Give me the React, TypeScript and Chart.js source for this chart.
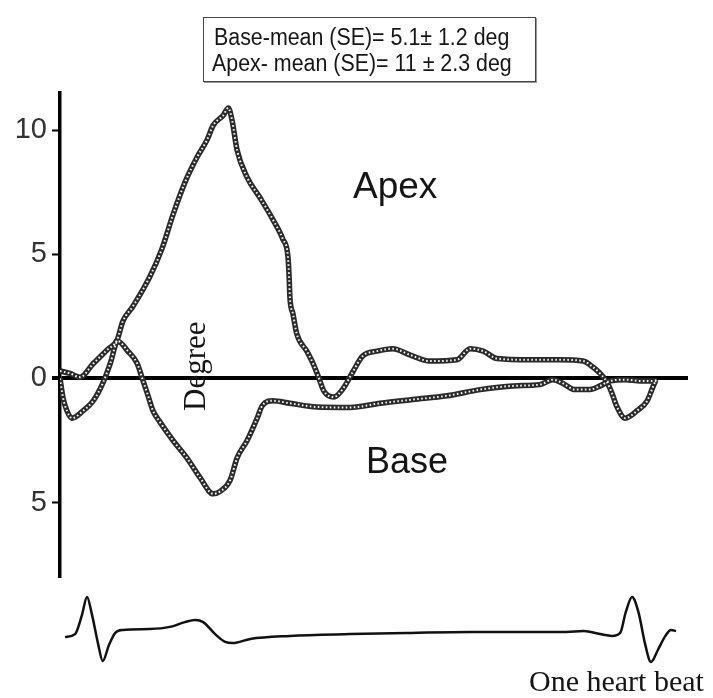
import React, { useEffect, useRef } from 'react';
import { Chart, registerables } from 'chart.js';

Chart.register(...registerables);

// ---- Data (time in ms across one heart beat, rotation in degrees) ----
const apexTime = [0, 16, 32, 53, 75, 91, 100, 116, 143, 162, 180, 199, 218, 234, 244, 260, 268, 274, 282, 298, 318, 339, 355, 363, 365, 366, 371, 377, 393, 403, 411, 420, 436, 451, 467, 482, 505, 530, 557, 589, 632, 653, 674, 696, 748, 796, 833, 849, 860, 871, 879, 887, 900, 919, 935, 944, 949];
const apexDeg = [0.3, 0.2, 0.05, 0.6, 1.15, 1.55, 2.3, 2.9, 4.1, 5.2, 6.6, 7.9, 8.9, 9.6, 10.2, 10.6, 10.9, 10.4, 9.2, 8.1, 7.3, 6.4, 5.6, 4.9, 4.0, 3.3, 2.6, 1.8, 1.1, 0.6, 0.1, -0.5, -0.75, -0.4, 0.3, 0.9, 1.1, 1.2, 0.95, 0.7, 0.75, 1.2, 1.1, 0.8, 0.75, 0.75, 0.7, 0.45, 0.2, -0.15, -0.6, -1.15, -1.6, -1.3, -0.9, -0.35, -0.05];

const baseTime = [0, 5, 11, 19, 37, 53, 68, 80, 92, 108, 123, 131, 139, 148, 159, 180, 202, 223, 244, 255, 271, 282, 298, 314, 322, 339, 366, 409, 462, 510, 562, 616, 669, 721, 764, 785, 801, 820, 844, 860, 876, 900, 924, 951];
const baseDeg = [0.0, -0.8, -1.3, -1.6, -1.3, -0.9, -0.2, 0.6, 1.5, 1.1, 0.6, 0.0, -0.6, -1.3, -1.75, -2.5, -3.2, -4.0, -4.65, -4.55, -4.1, -3.2, -2.5, -1.6, -1.1, -0.9, -1.0, -1.15, -1.17, -1.0, -0.85, -0.7, -0.45, -0.3, -0.25, -0.05, -0.2, -0.45, -0.45, -0.3, -0.1, -0.05, -0.1, -0.1];

const ecgTime = [8, 24, 35, 43, 51, 61, 68, 78, 88, 100, 143, 175, 199, 215, 228, 247, 263, 275, 303, 366, 462, 559, 653, 806, 834, 860, 879, 892, 901, 911, 921, 932, 941, 952, 964, 973, 981];
const ecgAmp = [-0.17, -0.07, 0.57, 1.17, 0.57, -0.43, -0.97, -0.43, -0.03, 0.07, 0.1, 0.17, 0.33, 0.4, 0.33, -0.07, -0.33, -0.37, -0.23, -0.13, -0.07, -0.03, 0, 0, 0.03, -0.07, -0.13, -0.03, 0.67, 1.17, 0.67, -0.43, -1.0, -0.6, -0.13, 0.07, 0.03];

const yTickValues = [-5, 0, 5, 10];
const yTickLabels = ['5', '0', '5', '10'];

const boxLines = ['Base-mean (SE)= 5.1\u00B1 1.2 deg', 'Apex- mean (SE)= 11 \u00B1 2.3 deg'];
const apexLabel = 'Apex';
const baseLabel = 'Base';
const yTitle = 'Degree';
const ecgLabel = 'One heart beat';

const pts = (xs: number[], ys: number[]) => xs.map((x, i) => ({ x, y: ys[i] }));

function beaded(label: string, xs: number[], ys: number[]) {
  const data = pts(xs, ys);
  return [
    {
      label,
      data,
      order: 2,
      borderColor: '#2a2a2a',
      borderWidth: 5.5,
      pointRadius: 0,
      cubicInterpolationMode: 'monotone' as const,
      fill: false,
    },
    {
      label: label + ' beads',
      data,
      order: 1,
      borderColor: 'rgba(255,255,255,0.95)',
      borderWidth: 2,
      borderDash: [1.6, 2.4],
      pointRadius: 0,
      cubicInterpolationMode: 'monotone' as const,
      fill: false,
    },
  ];
}

function Txt(props: { x: number; baseline: number; size: number; serif?: boolean; text: string; rotate?: boolean; scaleX?: number }) {
  const { x, baseline, size, serif, text, rotate, scaleX } = props;
  const asc = serif ? 0.8375 : 0.8465;
  const style: React.CSSProperties = {
    position: 'absolute',
    whiteSpace: 'nowrap',
    fontFamily: serif ? '"Liberation Serif", "Times New Roman", serif' : '"Liberation Sans", Arial, sans-serif',
    fontSize: size + 'px',
    lineHeight: size + 'px',
    color: '#151515',
    margin: 0,
    padding: 0,
  };
  if (rotate) {
    style.left = x - asc * size;
    style.top = baseline;
    style.transformOrigin = '0 0';
    style.transform = 'rotate(-90deg)';
  } else {
    style.left = x;
    style.top = baseline - asc * size;
    if (scaleX) {
      style.transformOrigin = '0 0';
      style.transform = `scaleX(${scaleX})`;
    }
  }
  return <div style={style}>{text}</div>;
}

export default function App() {
  const mainRef = useRef<HTMLCanvasElement>(null);
  const ecgRef = useRef<HTMLCanvasElement>(null);

  useEffect(() => {
    const main = new Chart(mainRef.current!, {
      type: 'line',
      data: {
        datasets: [...beaded('Apex', apexTime, apexDeg), ...beaded('Base', baseTime, baseDeg)] as any,
      },
      options: {
        animation: false,
        responsive: false,
        devicePixelRatio: 1,
        layout: { padding: { top: 93, bottom: 23, left: 0, right: 25 } },
        plugins: { legend: { display: false }, tooltip: { enabled: false } },
        scales: {
          x: { type: 'linear', min: 0, max: 1000, display: false },
          y: {
            type: 'linear',
            min: -8,
            max: 11.5,
            afterBuildTicks: (s: any) => {
              s.ticks = yTickValues.map((v) => ({ value: v }));
            },
            afterFit: (s: any) => {
              s.width = 60;
            },
            ticks: {
              callback: (v: any) => {
                const i = yTickValues.indexOf(Number(v));
                return i >= 0 ? yTickLabels[i] : '';
              },
              font: { family: '"Liberation Sans", Arial, sans-serif', size: 29 },
              color: '#333',
              padding: 5,
            },
            grid: {
              color: (c: any) => (c.tick && c.tick.value === 0 ? '#000' : 'rgba(0,0,0,0)'),
              lineWidth: (c: any) => (c.tick && c.tick.value === 0 ? 4 : 1),
              tickColor: '#000',
              tickLength: 8,
              tickWidth: (c: any) => (c.tick && c.tick.value === 0 ? 4 : 2),
            } as any,
            border: { display: true, color: '#000', width: 3.5 },
          },
        },
      },
    });

    const ecg = new Chart(ecgRef.current!, {
      type: 'line',
      data: {
        datasets: [
          {
            label: 'ECG',
            data: pts(ecgTime, ecgAmp),
            borderColor: '#111',
            borderWidth: 2.5,
            pointRadius: 0,
            cubicInterpolationMode: 'monotone',
            fill: false,
          },
        ],
      },
      options: {
        animation: false,
        responsive: false,
        devicePixelRatio: 1,
        layout: { padding: { top: 0, bottom: 0, left: 60, right: 25 } },
        plugins: { legend: { display: false }, tooltip: { enabled: false } },
        scales: {
          x: { type: 'linear', min: 0, max: 1000, display: false },
          y: { type: 'linear', min: -1.767, max: 1.9, display: false },
        },
      },
    });

    return () => {
      main.destroy();
      ecg.destroy();
    };
  }, []);

  return (
    <div style={{ position: 'fixed', left: 0, top: 0, width: 713, height: 698, background: '#fff', overflow: 'hidden' }}>
      <canvas ref={mainRef} width={713} height={600} style={{ position: 'absolute', left: 0, top: 0, width: 713, height: 600 }} />
      <canvas ref={ecgRef} width={713} height={110} style={{ position: 'absolute', left: 0, top: 575, width: 713, height: 110 }} />
      <div
        style={{
          position: 'absolute',
          left: 203,
          top: 17,
          width: 331,
          height: 63,
          border: '1.5px solid #444',
          boxShadow: '1px 1px 0 #999',
          background: 'transparent',
        }}
      />
      <Txt x={214} baseline={45} size={23} text={boxLines[0]} scaleX={0.93} />
      <Txt x={212} baseline={71} size={23} text={boxLines[1]} scaleX={0.93} />
      <Txt x={353} baseline={198} size={37} text={apexLabel} />
      <Txt x={366} baseline={473} size={36} text={baseLabel} />
      <Txt x={205} baseline={411} size={31} serif rotate text={yTitle} />
      <Txt x={529} baseline={691} size={30} serif text={ecgLabel} />
    </div>
  );
}
